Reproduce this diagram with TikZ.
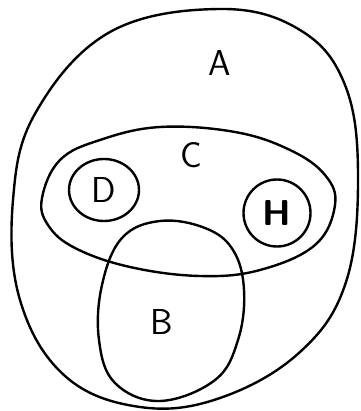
\documentclass[tikz,border=0pt]{standalone}
\usepackage{tikz}
\usetikzlibrary{shapes.geometric, positioning}

\begin{document}
\begin{tikzpicture}[
    x=1pt, y=-1pt,
    setline/.style={draw, line width=2.4pt, line join=round},
    setname/.style={font=\fontsize{36}{36}\selectfont\sffamily, inner sep=0pt},
    inner/.style={setline, ellipse, minimum width=#1, setname}
]
\useasboundingbox (0,0) rectangle (360,411);

% Set A (outer)
\draw[setline] plot[smooth cycle, tension=0.65] coordinates {
    (220,9) (300,30) (345,85) (358,175) (346,282) (300,352) (220,398)
    (140,407) (65,376) (20,300) (13,200) (36,112) (110,32)};

% Set C
\draw[setline] plot[smooth cycle, tension=0.65] coordinates {
    (42,198) (60,160) (100,140) (160,127) (235,132) (290,150) (325,175)
    (335,205) (315,245) (260,270) (200,276) (130,267) (75,248) (48,225)};

% Set B
\draw[setline] plot[smooth cycle, tension=0.65] coordinates {
    (160,221) (205,228) (233,250) (244,290) (238,340) (215,380) (160,401)
    (115,383) (99,340) (102,285) (122,238)};

% Sets D and H
\node[inner=70pt, minimum height=62pt] (D) at (104,190) {D};
\node[inner=67pt, minimum height=67pt] (H) at (277,213) {\bfseries H};

% Names
\node[setname] (nameA) at (220,63) {A};
\node[setname] (nameC) at (191,155) {C};
\node[setname] (nameB) at (162,322) {B};

\end{tikzpicture}
\end{document}
